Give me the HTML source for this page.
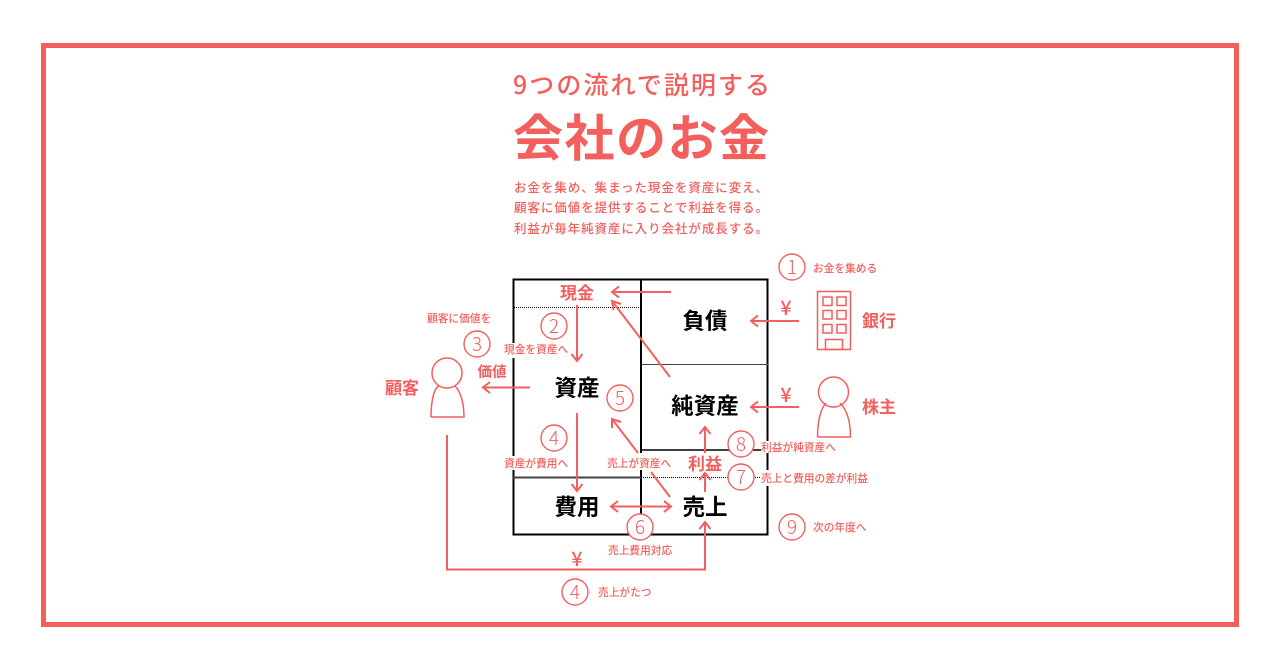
<!DOCTYPE html>
<html lang="ja"><head><meta charset="utf-8"><title>会社のお金</title>
<style>
html,body{margin:0;padding:0;background:#fff;width:1280px;height:670px;overflow:hidden}
svg{display:block}
text{font-family:"Liberation Sans","Noto Sans CJK JP",sans-serif;fill:#f25f5c}
.k{fill:#000;font-weight:700;font-size:22.5px;text-anchor:middle}
.r{font-weight:700;font-size:17px;text-anchor:middle}
.s{font-size:10.7px;font-weight:500;font-family:"Noto Sans CJK JP",sans-serif}
.b{font-size:12.5px;font-weight:500;font-family:"Noto Sans CJK JP",sans-serif}
.y{font-size:20px;font-weight:500;text-anchor:middle;font-family:"Noto Sans CJK JP",sans-serif}
.n{font-size:19px;text-anchor:middle;font-weight:300;font-family:"Noto Sans CJK JP",sans-serif}
.c{fill:#fff;stroke:#f25f5c;stroke-width:1.4}
.l{fill:none;stroke:#f25f5c;stroke-width:2}
.t{fill:none;stroke:#f25f5c;stroke-width:1.5}
</style></head><body>
<svg width="1280" height="670" viewBox="0 0 1280 670" xmlns="http://www.w3.org/2000/svg">
<rect x="43.5" y="45.5" width="1193" height="579" fill="none" stroke="#f25f5c" stroke-width="5"/>
<text x="513" y="94" font-size="25" font-weight="500" style="font-family:'Noto Sans CJK JP',sans-serif" textLength="257" lengthAdjust="spacing">9つの流れで説明する</text>
<text x="513" y="156" font-size="50" font-weight="700" textLength="256" lengthAdjust="spacing">会社のお金</text>
<text class="b" x="514" y="192" textLength="254" lengthAdjust="spacing">お金を集め、集まった現金を資産に変え、</text>
<text class="b" x="514" y="212" textLength="254" lengthAdjust="spacing">顧客に価値を提供することで利益を得る。</text>
<text class="b" x="514" y="233" textLength="254" lengthAdjust="spacing">利益が毎年純資産に入り会社が成長する。</text>

<!-- ledger box -->
<rect x="513.500" y="279.500" width="254" height="255" fill="none" stroke="#000" stroke-width="2"/>
<line x1="641" y1="279" x2="641" y2="535" stroke="#000" stroke-width="2"/>
<line x1="514" y1="307.500" x2="641" y2="307.500" stroke="#000" stroke-width="1" stroke-dasharray="1 1"/>
<line x1="641" y1="364.500" x2="768" y2="364.500" stroke="#444" stroke-width="1"/>
<line x1="641" y1="450" x2="768" y2="450" stroke="#000" stroke-width="1.500"/>
<line x1="513" y1="477.500" x2="641" y2="477.500" stroke="#444" stroke-width="2"/>
<line x1="641" y1="477.500" x2="768" y2="477.500" stroke="#000" stroke-width="1" stroke-dasharray="1 1"/>

<!-- white label backs -->
<rect x="503" y="343" width="65" height="15" fill="#fff"/>
<rect x="503" y="456" width="66" height="14" fill="#fff"/>
<rect x="606" y="453" width="66" height="17" fill="#fff"/>
<rect x="761" y="441" width="77" height="12" fill="#fff"/>
<rect x="761" y="470" width="110" height="16" fill="#fff"/>
<rect x="688" y="455" width="34" height="18" fill="#fff"/>

<!-- labels -->
<text class="k" x="705" y="329">負債</text>
<text class="k" x="705" y="414">純資産</text>
<text class="k" x="577" y="396">資産</text>
<text class="k" x="577" y="515">費用</text>
<text class="k" x="705" y="515">売上</text>
<text class="r" x="577" y="299">現金</text>
<text class="r" x="705" y="470">利益</text>
<text class="r" x="492" y="377" style="font-size:14.500px">価値</text>
<text class="r" x="402" y="394">顧客</text>
<text class="r" x="879" y="327">銀行</text>
<text class="r" x="879" y="413">株主</text>
<text class="y" x="786" y="315">¥</text>
<text class="y" x="786" y="402">¥</text>
<text class="y" x="577" y="566">¥</text>

<!-- arrows -->
<path class="l" d="M671 292H612M619 286.500L612 292L619 297.500"/>
<path class="l" d="M670 377L612 301M613.500 310L612 301L621 304"/>
<path class="l" d="M577 305V361M571.500 354L577 361L582.500 354"/>
<path class="l" d="M530 387.500H483M490 382L483 387.500L490 393"/>
<path class="l" d="M577 413V491M571.500 484L577 491L582.500 484"/>
<path class="l" d="M670 497L651 472"/>
<path class="l" d="M638 453L612 419M612 428L612 419L621 422"/>
<path class="l" d="M611 506.500H671M618 501L611 506.500L618 512M664 501L671 506.500L664 512"/>
<path class="l" d="M705 492V473M699.500 480L705 473L710.500 480"/>
<path class="l" d="M705 453V427M699.500 434L705 427L710.500 434"/>
<path class="l" d="M447 435V569.500H705V522M699.500 529L705 522L710.500 529"/>
<path class="l" d="M799 321H751M758 315.500L751 321L758 326.500"/>
<path class="l" d="M799 407H751M758 401.500L751 407L758 412.500"/>

<!-- building -->
<g class="t">
<rect x="817.500" y="291.500" width="33" height="58"/>
<rect x="823" y="297" width="9" height="8.500"/><rect x="837" y="297" width="9" height="8.500"/>
<rect x="823" y="310.500" width="9" height="8.500"/><rect x="837" y="310.500" width="9" height="8.500"/>
<rect x="823" y="324.500" width="9" height="8.500"/><rect x="837" y="324.500" width="9" height="8.500"/>
<rect x="825.500" y="339.500" width="17" height="10"/>
</g>

<!-- people -->
<g class="t">
<path d="M817.500 437C817.500 418 822 407 826 403M840 403C846 409 850.500 420 850.500 437H817.500"/>
<circle cx="833.500" cy="392" r="15"/>
<path d="M431 417C431 398 435 387 439 386M455 386C460 391 464 402 464 417H431"/>
<circle cx="447" cy="373" r="15"/>
</g>

<!-- numbered circles -->
<circle class="c" cx="792" cy="267" r="13"/><text class="n" x="792" y="274">1</text>
<circle class="c" cx="554" cy="326" r="13"/><text class="n" x="554" y="333">2</text>
<circle class="c" cx="477" cy="344" r="13"/><text class="n" x="477" y="351">3</text>
<circle class="c" cx="620" cy="398" r="13"/><text class="n" x="620" y="405">5</text>
<circle class="c" cx="554" cy="438" r="13"/><text class="n" x="554" y="445">4</text>
<circle class="c" cx="741" cy="444" r="13"/><text class="n" x="741" y="451">8</text>
<circle class="c" cx="741" cy="477" r="13"/><text class="n" x="741" y="484">7</text>
<circle class="c" cx="640" cy="527" r="13"/><text class="n" x="640" y="534">6</text>
<circle class="c" cx="792" cy="527" r="13"/><text class="n" x="792" y="534">9</text>
<circle class="c" cx="575" cy="592" r="13"/><text class="n" x="575" y="599">4</text>

<!-- small captions -->
<text class="s" x="813" y="272">お金を集める</text>
<text class="s" x="427" y="322">顧客に価値を</text>
<text class="s" x="504" y="353">現金を資産へ</text>
<text class="s" x="504" y="467">資産が費用へ</text>
<text class="s" x="607" y="467">売上が資産へ</text>
<text class="s" x="761" y="451">利益が純資産へ</text>
<text class="s" x="761" y="482">売上と費用の差が利益</text>
<text class="s" x="813" y="531">次の年度へ</text>
<text class="s" x="608" y="554">売上費用対応</text>
<text class="s" x="598" y="596">売上がたつ</text>
</svg>
</body></html>
